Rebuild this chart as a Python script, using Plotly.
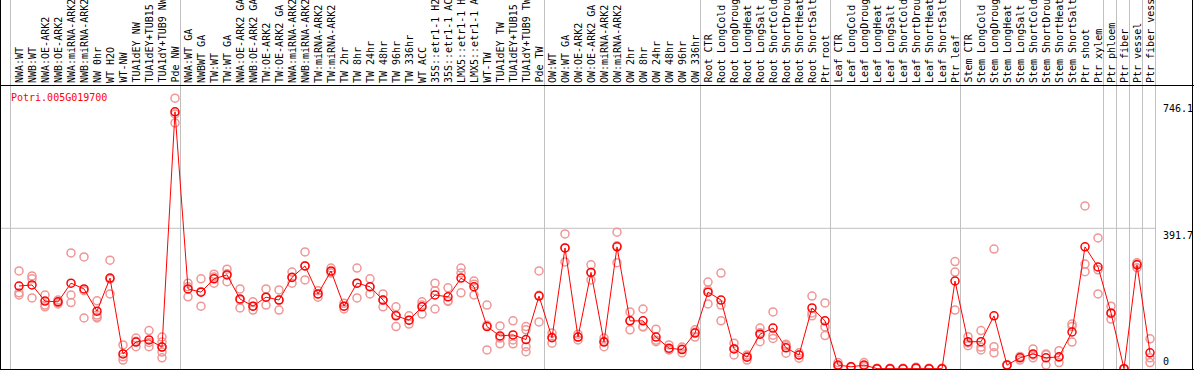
import plotly.graph_objects as go

# ---------------- data ----------------
categories = [
    "NWA:WT", "NWB:WT", "NWA:OE-ARK2", "NWB:OE-ARK2", "NWA:miRNA-ARK2", "NWB:miRNA-ARK2",
    "NW 0hr", "WT H2O", "WT-NW", "TUA1dEY NW", "TUA1dEY+TUB15 NW", "TUA1dY+TUB9 NW", "Pde NW",
    "NWA:WT GA", "NWBWT GA", "TW:WT", "TW:WT GA", "NWA:OE-ARK2 GA", "NWB:OE-ARK2 GA",
    "TW:OE-ARK2", "TW:OE-ARK2 GA", "NWA:miRNA-ARK2 GA", "NWB:miRNA-ARK2 GA", "TW:miRNA-ARK2",
    "TW:miRNA-ARK2 GA", "TW 2hr", "TW 8hr", "TW 24hr", "TW 48hr", "TW 96hr", "TW 336hr",
    "WT ACC", "35S::etr1-1 H2O", "35S::etr1-1 ACC", "LMX5::etr1-1 H2O", "LMX5::etr1-1 ACC",
    "WT-TW", "TUA1dEY TW", "TUA1dEY+TUB15 TW", "TUA1dY+TUB9 TW", "Pde TW",
    "OW:WT", "OW:WT GA", "OW:OE-ARK2", "OW:OE-ARK2 GA", "OW:miRNA-ARK2", "OW:miRNA-ARK2 GA",
    "OW 2hr", "OW 8hr", "OW 24hr", "OW 48hr", "OW 96hr", "OW 336hr",
    "Root CTR", "Root LongCold", "Root LongDrought", "Root LongHeat", "Root LongSalt",
    "Root ShortCold", "Root ShortDrought", "Root ShortHeat", "Root ShortSalt", "Ptr root",
    "Leaf CTR", "Leaf LongCold", "Leaf LongDrought", "Leaf LongHeat", "Leaf LongSalt",
    "Leaf ShortCold", "Leaf ShortDrought", "Leaf ShortHeat", "Leaf ShortSalt", "Ptr leaf",
    "Stem CTR", "Stem LongCold", "Stem LongDrought", "Stem LongHeat", "Stem LongSalt",
    "Stem ShortCold", "Stem ShortDrought", "Stem ShortHeat", "Stem ShortSalt", "Ptr shoot",
    "Ptr xylem", "Ptr phloem", "Ptr fiber", "Ptr vessel", "Ptr fiber vessel",
]

group_sizes = [13, 28, 12, 10, 10, 11, 1, 1, 1, 1]

means = [231, 234, 189, 187, 239, 223, 161, 253, 42, 75, 81, 61, 716,
         223, 214, 251, 262, 195, 175, 200, 192, 255, 287, 209, 273, 175, 239, 229, 192,
         148, 136, 173, 206, 201, 253, 229, 118, 92, 95, 82, 203,
         87, 337, 89, 269, 75, 340, 134, 134, 89, 58, 54, 100,
         214, 192, 56, 33, 97, 114, 59, 39, 170, 134,
         11, 6, 11, 1, 1, 1, 3, 1, 1, 245,
         76, 76, 148, 11, 31, 42, 31, 34, 103, 340, 284,
         156, 1, 290, 45]

replicates = [
    [273, 212, 206], [259, 251, 198], [206, 178, 173], [192, 185, 181], [323, 206, 185],
    [312, 218, 142], [190, 150, 145, 142], [303, 250, 209], [67, 34, 25], [86, 77, 62],
    [107, 74, 62], [89, 75, 61, 47, 31], [754, 710, 685],
    [239, 229, 201], [251, 216, 175], [264, 256, 239], [278, 265, 243], [223, 192, 170],
    [187, 175, 164], [223, 200, 178], [220, 192, 164], [270, 256, 239], [326, 287, 248],
    [218, 209, 200], [281, 271, 267], [183, 175, 167], [281, 239, 198], [251, 229, 209],
    [209, 192, 173], [173, 150, 118], [148, 136, 125], [187, 178, 153], [239, 218, 167],
    [226, 190, 188], [281, 267, 212], [245, 236, 206], [178, 122, 53], [120, 86, 70],
    [134, 81, 70], [118, 109, 62, 48], [273, 205, 131],
    [100, 89, 72], [376, 337, 298], [97, 89, 81], [290, 269, 248], [86, 77, 62],
    [381, 343, 296], [159, 134, 109], [167, 118, 117], [111, 80, 76], [67, 54, 53],
    [61, 56, 45], [109, 102, 89],
    [242, 219, 181], [267, 178, 134], [72, 57, 39], [39, 35, 25], [114, 101, 76],
    [159, 94, 85], [69, 65, 44], [45, 39, 30], [203, 156, 148], [184, 117, 93],
    [18, 8, 7], [7, 6, 5], [18, 8, 7], [2, 1, 0], [2, 1, 0], [2, 1, 0], [5, 2, 2],
    [2, 1, 0], [2, 1, 0], [299, 270, 164],
    [90, 73, 65], [107, 61, 53], [334, 62, 45], [12, 11, 10], [35, 33, 25], [56, 39, 31],
    [42, 40, 11], [51, 33, 18], [125, 118, 75], [454, 292, 271], [365, 276, 209],
    [175, 154, 139], [1, 0, 0], [296, 292, 282], [84, 31, 18],
]

gene_id = "Potri.005G019700"
ytick_vals = [746.1, 391.7, 0]
ytick_text = ["746.1", "391.7", "0"]
grid_vals = [391.7]

# ---------------- layout geometry ----------------
W, H = 1194, 370
X0_PX, DX_PX = 19.0, 13.0          # pixel x of first category, spacing
Y0_PX, PX_PER_UNIT = 369.0, 0.3592  # pixel y of value 0, pixels per unit


def xv(px):
    return (px - X0_PX) / DX_PX


def yv(px):
    return (Y0_PX - px) / PX_PER_UNIT


FONT = "DejaVu Sans Mono"
GRID = "#c0c0c0"

fig = go.Figure()

rx = [i for i, reps in enumerate(replicates) for _ in reps]
ry = [v for reps in replicates for v in reps]
fig.add_trace(go.Scatter(
    x=rx, y=ry, mode="markers",
    marker=dict(symbol="circle-open", size=8, color="rgb(240,150,150)", line=dict(width=1.5)),
    hoverinfo="skip", showlegend=False, cliponaxis=False))

fig.add_trace(go.Scatter(
    x=list(range(len(means))), y=means, mode="lines+markers",
    line=dict(color="red", width=1),
    marker=dict(symbol="circle-open", size=8, color="red", line=dict(width=1.5)),
    showlegend=False, cliponaxis=False))

shapes = []
# group separators
boundaries = [-1]
acc = -1
for g in group_sizes:
    acc += g
    boundaries.append(acc)
bx = [b + 5.5 / DX_PX for b in boundaries]
bx[0] = xv(10.5)
for x in bx:
    shapes.append(dict(type="line", xref="x", yref="y", x0=x, x1=x, y0=yv(0), y1=yv(H),
                       line=dict(color=GRID, width=1), layer="below"))
# horizontal grid
for gv in grid_vals:
    shapes.append(dict(type="line", xref="x", yref="y", x0=xv(0), x1=bx[-1], y0=gv, y1=gv,
                       line=dict(color=GRID, width=1), layer="below"))
# black frame lines
for y in [yv(85.5), yv(369.5)]:
    shapes.append(dict(type="line", xref="x", yref="y", x0=xv(0), x1=xv(W), y0=y, y1=y,
                       line=dict(color="black", width=1)))
for x in [xv(0.5), xv(1192.5)]:
    shapes.append(dict(type="line", xref="x", yref="y", x0=x, x1=x, y0=yv(0), y1=yv(H),
                       line=dict(color="black", width=1)))

annotations = []
for i, lab in enumerate(categories):
    annotations.append(dict(x=i, y=yv(85), xref="x", yref="y", text=lab, textangle=-90,
                            xanchor="center", yanchor="bottom", showarrow=False,
                            font=dict(family=FONT, size=10, color="black")))
annotations.append(dict(x=xv(9), y=yv(97), xref="x", yref="y", text=gene_id,
                        xanchor="left", yanchor="middle", showarrow=False,
                        font=dict(family=FONT, size=10, color="red")))
for v, t in zip(ytick_vals, ytick_text):
    annotations.append(dict(x=xv(1161), y=v, xref="x", yref="y", text=t,
                            xanchor="left", yanchor="top" if v > 0 else "bottom",
                            showarrow=False, font=dict(family=FONT, size=10, color="black")))

fig.update_layout(
    width=W, height=H, margin=dict(l=0, r=0, t=0, b=0),
    paper_bgcolor="white", plot_bgcolor="white",
    xaxis=dict(range=[xv(0), xv(W)], visible=False, showgrid=False, zeroline=False,
               fixedrange=True),
    yaxis=dict(range=[yv(H), yv(0)], visible=False, showgrid=False, zeroline=False,
               fixedrange=True),
    shapes=shapes, annotations=annotations, showlegend=False,
)

fig.write_html(
    "out.html",
    config={"displayModeBar": False},
    post_script="document.body.style.margin='0px';document.body.style.overflow='hidden';",
)
